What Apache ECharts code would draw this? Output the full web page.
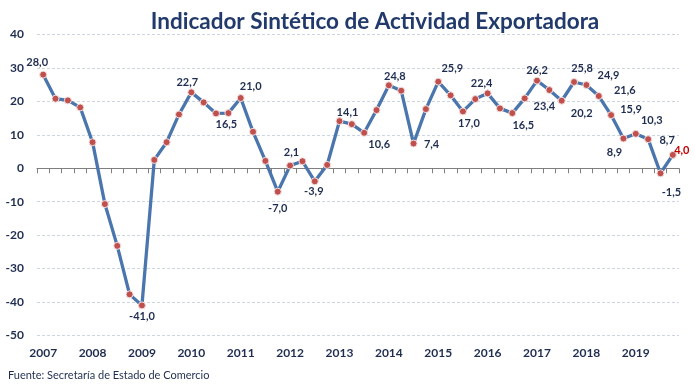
<!DOCTYPE html>
<html>
<head>
<meta charset="utf-8">
<script src="https://cdn.jsdelivr.net/npm/echarts@6/dist/echarts.min.js"></script>
<style>html,body{margin:0;padding:0;background:#fff;}#c{width:695px;height:390px;}</style>
</head>
<body>
<div id="c"></div>
<script>
// Quarterly periods 2007 T1 .. 2019 T4
const years = ['2007','2008','2009','2010','2011','2012','2013','2014','2015','2016','2017','2018','2019'];
const quarters = ['T1','T2','T3','T4'];
const categories = [];
years.forEach(y => quarters.forEach(q => categories.push(y + ' ' + q)));

const values = [
  28.0, 20.8, 20.3, 18.2,
  7.8, -10.7, -23.2, -37.7,
  -41.0, 2.5, 7.8, 16.1,
  22.7, 19.7, 16.4, 16.5,
  21.0, 10.9, 2.2, -7.0,
  0.8, 2.1, -3.9, 1.0,
  14.1, 13.2, 10.6, 17.4,
  24.8, 23.2, 7.4, 17.7,
  25.9, 21.8, 17.0, 20.7,
  22.4, 17.9, 16.5, 20.9,
  26.2, 23.4, 20.2, 25.8,
  24.9, 21.6, 15.9, 8.9,
  10.3, 8.7, -1.5, 4.0
];

const yTicks = { min: -50, max: 40, interval: 10 };

// indices of points that carry a value label
const labelled = [0, 8, 12, 15, 16, 19, 21, 22, 24, 26, 28, 30, 32, 34, 36, 38, 40, 41, 42, 43, 44, 45, 46, 47, 48, 49, 50, 51];

// label placement (pixel offsets from the point), styling only
const labelOffset = {
  0: [-6, -12], 8: [0, 11], 12: [-4, -10], 15: [-2, 11], 16: [10, -12],
  19: [0, 17], 21: [-11, -9], 22: [-1, 10], 24: [8, -9], 26: [15, 12],
  28: [6, -9], 30: [18, 1], 32: [14, -13], 34: [6, 12], 36: [-6, -10],
  38: [11, 12], 40: [0, -10], 41: [-5, 16], 42: [20, 13], 43: [8, -14],
  44: [22, -10], 45: [26, -6], 46: [20, -6], 47: [-9, 14], 48: [16, -13],
  49: [19, 1], 50: [11, 19], 51: [9, -4]
};

const FONT = 'Lato, "Open Sans", sans-serif';
const NAVY = '#1f2d50';

const seriesData = values.map((v, i) => {
  const d = { value: v };
  if (labelled.includes(i)) {
    d.label = {
      show: true,
      position: 'inside',
      offset: labelOffset[i],
      align: 'center',
      verticalAlign: 'middle',
      color: i === values.length - 1 ? '#c00000' : NAVY
    };
  }
  return d;
});

const chart = echarts.init(document.getElementById('c'));
chart.setOption({
  backgroundColor: '#ffffff',
  animation: false,
  title: {
    text: 'Indicador Sintético de Actividad Exportadora',
    left: 370, top: 5, textAlign: 'center',
    textStyle: { fontFamily: FONT, fontSize: 22.5, fontWeight: 'bold', color: '#213a6b' }
  },
  graphic: [{
    type: 'text', left: 8, top: 370,
    style: { text: 'Fuente: Secretaría de Estado de Comercio', font: '11px ' + FONT, fill: NAVY }
  }],
  grid: { left: 37, right: 16, top: 34.5, bottom: 54.5, containLabel: false },
  xAxis: [{
    type: 'category', data: categories, boundaryGap: true,
    axisLine: { show: true, onZero: true, lineStyle: { color: '#7f7f7f', width: 1 } },
    axisTick: { show: true, interval: 0, length: 5, lineStyle: { color: '#7f7f7f', width: 1 } },
    axisLabel: { show: false },
    splitLine: { show: false }
  }, {
    type: 'category', data: categories, boundaryGap: true, position: 'bottom',
    axisLine: { show: false, onZero: false },
    axisTick: { show: false },
    axisLabel: {
      show: true, interval: 3, margin: 12,
      formatter: v => v.split(' ')[0],
      fontFamily: FONT, fontSize: 12, fontWeight: 'bold', color: NAVY
    },
    splitLine: { show: false }
  }],
  yAxis: {
    type: 'value', min: yTicks.min, max: yTicks.max, interval: yTicks.interval,
    axisLine: { show: false }, axisTick: { show: false },
    axisLabel: { fontFamily: FONT, fontSize: 12, fontWeight: 'bold', color: NAVY, margin: 13 },
    splitLine: { show: true, lineStyle: { color: '#ccd5e0', type: [3, 2], width: 1 } }
  },
  series: [{
    type: 'line', xAxisIndex: 0, data: seriesData,
    symbol: 'circle', symbolSize: 7,
    lineStyle: { color: '#4a76ad', width: 3.3 },
    itemStyle: { color: '#c0504d', borderColor: '#f3e1e0', borderWidth: 1 },
    label: { show: false, fontFamily: FONT, fontSize: 11, fontWeight: 'bold', formatter: p => p.value.toFixed(1).replace('.', ',') },
    z: 3
  }]
});
</script>
</body>
</html>
